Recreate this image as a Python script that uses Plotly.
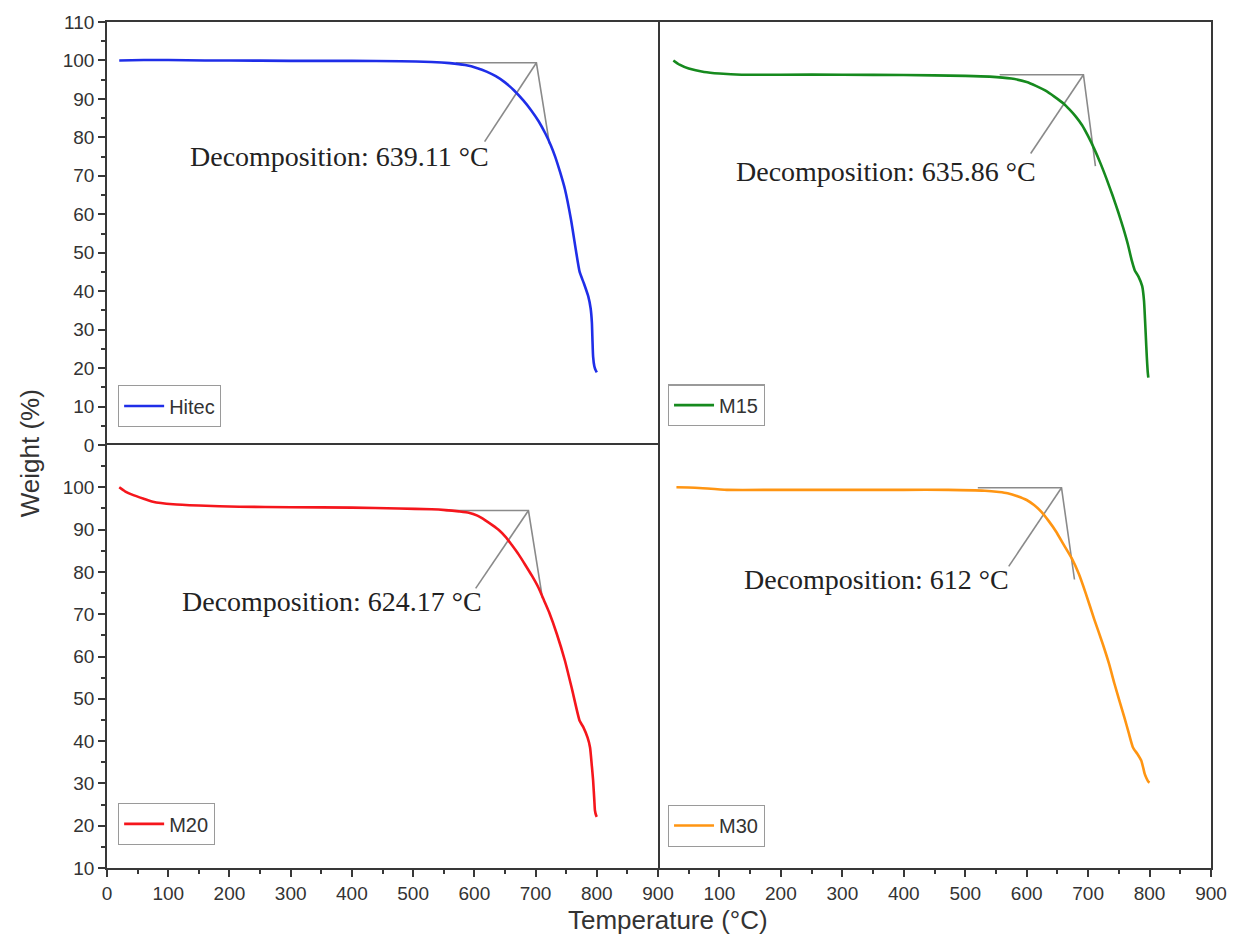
import plotly.graph_objects as go

# ---- TGA curves: temperature (°C) vs. remaining weight (%) ----
hitec_t = [20, 60, 100, 160, 200, 300, 400, 480, 530, 560, 585, 605, 620, 635, 650, 665, 680,
           693, 705, 716, 725, 732, 740, 748, 758, 766, 772, 779, 786, 790, 792, 793, 794, 796, 798, 800]
hitec_w = [100.0, 100.1, 100.1, 100.0, 100.0, 99.9, 99.9, 99.8, 99.6, 99.3, 98.8, 98.0, 97.1, 95.9,
           94.3, 92.2, 89.6, 87.0, 84.2, 81.0, 77.9, 75.0, 71.0, 66.5, 58.5, 50.5, 45.0, 42.0, 38.7,
           35.5, 31.8, 27.0, 23.0, 20.5, 19.5, 18.9]

m15_t = [25, 35, 50, 75, 100, 136, 200, 300, 400, 500, 540, 575, 600, 615, 630, 645, 660, 670, 680,
         690, 700, 710, 720, 730, 740, 749, 757, 765, 771, 776, 782, 788, 791, 792.5, 794, 795.5,
         797, 798]
m15_w = [100.0, 98.9, 97.9, 97.0, 96.6, 96.3, 96.3, 96.3, 96.2, 96.0, 95.8, 95.3, 94.4, 93.4, 92.2,
         90.6, 88.8, 87.2, 85.4, 83.2, 80.3, 77.0, 73.3, 69.2, 64.8, 60.6, 56.5, 52.0, 48.0, 45.4,
         43.8, 41.3, 37.5, 33.0, 28.0, 23.0, 19.0, 17.5]

m20_t = [20, 30, 42, 60, 75, 108, 150, 216, 300, 400, 477, 530, 553, 575, 591, 605, 618, 630, 640,
         651, 661, 672, 683, 694, 705, 714, 722, 735, 748, 760, 772, 778, 785, 789, 792, 794, 796,
         797, 799, 800]
m20_w = [100.0, 99.0, 98.2, 97.3, 96.6, 96.0, 95.7, 95.4, 95.3, 95.2, 95.0, 94.8, 94.6, 94.3, 94.0,
         93.3, 92.2, 91.0, 89.9, 88.3, 86.4, 84.2, 81.7, 79.1, 76.2, 73.2, 70.5, 65.2, 59.0, 52.0,
         44.8, 43.3, 40.8, 38.5, 34.0, 30.7, 26.0, 23.6, 22.4, 22.1]

m30_t = [30, 60, 112, 200, 300, 400, 472, 532, 555, 569, 585, 600, 612, 624, 636, 648, 660, 673,
         685, 696, 710, 724, 734, 743, 751, 759, 766, 773, 780, 786.5, 790, 792, 795, 798, 800]
m30_w = [100.0, 99.9, 99.4, 99.4, 99.4, 99.4, 99.4, 99.2, 98.9, 98.6, 97.9, 97.0, 95.8, 94.2, 92.0,
         89.5, 86.5, 83.3, 79.5, 75.0, 68.8, 62.9, 58.3, 53.5, 49.5, 45.6, 42.0, 38.5, 37.0, 35.4,
         33.5, 32.3, 31.2, 30.4, 30.2]

# ---- onset construction: baseline start, apex, tangent end, leader end ----
hitec_onset_t = [569.6, 701.4, 722.6, None, 701.4, 616.8]
hitec_onset_w = [99.4, 99.4, 78.4, None, 99.4, 78.9]
m15_onset_t = [556.0, 692.4, 711.9, None, 692.4, 606.5]
m15_onset_w = [96.3, 96.3, 72.5, None, 96.3, 75.8]
m20_onset_t = [553.0, 688.4, 711.2, None, 688.4, 602.2]
m20_onset_w = [94.5, 94.5, 73.8, None, 94.5, 76.1]
m30_onset_t = [520.5, 656.7, 677.8, None, 656.7, 570.8]
m30_onset_w = [99.9, 99.9, 78.2, None, 99.9, 81.3]

onset_labels = ["Decomposition: 639.11 °C", "Decomposition: 635.86 °C",
                "Decomposition: 624.17 °C", "Decomposition: 612 °C"]
label_t = [131.8, 123.2, 118.8, 136.2]
label_w = [75.0, 71.2, 73.1, 78.2]

names = ["Hitec", "M15", "M20", "M30"]
colors = ["#1f2ee8", "#168a1e", "#f5161c", "#ff9512"]

# tick values
y_top_ticks = list(range(0, 111, 10))
y_bot_ticks = list(range(10, 101, 10))
y_bot_minor = list(range(15, 110, 10))
x_left_ticks = list(range(0, 901, 100))
x_right_ticks = list(range(100, 901, 100))

# panel order: top-left, top-right, bottom-left, bottom-right
panel_axes = [("x3", "y3"), ("x4", "y4"), ("x", "y"), ("x2", "y2")]
legend_ids = ["legend", "legend2", "legend3", "legend4"]
curves = [(hitec_t, hitec_w), (m15_t, m15_w), (m20_t, m20_w), (m30_t, m30_w)]
onsets = [(hitec_onset_t, hitec_onset_w), (m15_onset_t, m15_onset_w),
          (m20_onset_t, m20_onset_w), (m30_onset_t, m30_onset_w)]

fig = go.Figure()
for i in range(4):
    xa, ya = panel_axes[i]
    fig.add_trace(go.Scatter(
        x=onsets[i][0], y=onsets[i][1], mode="lines", xaxis=xa, yaxis=ya,
        line=dict(color="#8a8a8a", width=1.6), showlegend=False, hoverinfo="skip"))
    fig.add_trace(go.Scatter(
        x=curves[i][0], y=curves[i][1], mode="lines", name=names[i], xaxis=xa, yaxis=ya,
        line=dict(color=colors[i], width=2.6, shape="spline", smoothing=0.5),
        legend=legend_ids[i]))

for i in range(4):
    xa, ya = panel_axes[i]
    fig.add_annotation(x=label_t[i], y=label_w[i], xref=xa, yref=ya, text=onset_labels[i],
                       showarrow=False, xanchor="left", yanchor="middle",
                       font=dict(family="Liberation Serif", size=28, color="#222222"))

LINE = "#383838"
base = dict(showline=True, linecolor=LINE, linewidth=1.6, showgrid=False, zeroline=False)
tick_font = dict(family="Liberation Sans", size=19, color="#333333")
major = dict(ticks="outside", ticklen=7, tickwidth=1.5, tickcolor=LINE, tickfont=tick_font)
xl, xr = [0, 0.4991], [0.4991, 1]
yb, yt = [0, 0.5], [0.5, 1]

fig.update_layout(
    # bottom-left: full frame
    xaxis=dict(domain=xl, range=[0, 900], anchor="y", tickmode="array", tickvals=x_left_ticks,
               minor=dict(ticks="outside", ticklen=4, dtick=50, tick0=0, tickcolor=LINE),
               mirror=True, **major, **base),
    yaxis=dict(domain=yb, range=[10, 110], anchor="x", tickmode="array", tickvals=y_bot_ticks,
               minor=dict(ticks="outside", ticklen=4, tickmode="array", tickvals=y_bot_minor,
                          tickcolor=LINE),
               mirror=True, **major, **base),
    # bottom-right: bottom axis + right edge only (shared edges come from neighbours)
    xaxis2=dict(domain=xr, range=[0, 900], anchor="y2", tickmode="array", tickvals=x_right_ticks,
                minor=dict(ticks="outside", ticklen=4, dtick=50, tick0=0, tickcolor=LINE),
                mirror=False, **major, **base),
    yaxis2=dict(domain=yb, range=[10, 110], anchor="x2", side="right", showticklabels=False,
                ticks="", mirror=False, **base),
    # top-left: top edge + left axis
    xaxis3=dict(domain=xl, range=[0, 900], anchor="y3", side="top", showticklabels=False,
                ticks="", mirror=False, **base),
    yaxis3=dict(domain=yt, range=[0, 110], anchor="x3", tickmode="array", tickvals=y_top_ticks,
                minor=dict(ticks="outside", ticklen=4, dtick=5, tick0=0, tickcolor=LINE),
                mirror=True, **major, **base),
    # top-right: top edge + right edge
    xaxis4=dict(domain=xr, range=[0, 900], anchor="y4", side="top", showticklabels=False,
                ticks="", mirror=False, **base),
    yaxis4=dict(domain=yt, range=[0, 110], anchor="x4", side="right", showticklabels=False,
                ticks="", mirror=False, **base),
)

legend_style = dict(bgcolor="white", bordercolor="#9a9a9a", borderwidth=1.2,
                    font=dict(family="Liberation Sans", size=20, color="#333333"),
                    xanchor="left", yanchor="bottom", itemwidth=40, tracegroupgap=0)
fig.update_layout(
    legend=dict(x=0.0099, y=0.521, **legend_style),
    legend2=dict(x=0.508, y=0.522, **legend_style),
    legend3=dict(x=0.0099, y=0.027, **legend_style),
    legend4=dict(x=0.508, y=0.025, **legend_style),
)

# shared axis titles
fig.add_annotation(x=-0.0695, y=0.4906, xref="paper", yref="paper", text="Weight (%)",
                   textangle=-90, showarrow=False, xanchor="center", yanchor="middle",
                   font=dict(family="Liberation Sans", size=26, color="#333333"))
fig.add_annotation(x=0.508, y=-0.061, xref="paper", yref="paper", text="Temperature (°C)",
                   showarrow=False, xanchor="center", yanchor="middle",
                   font=dict(family="Liberation Sans", size=26, color="#333333"))

fig.update_layout(
    width=1239, height=941,
    margin=dict(l=107, r=24, t=18, b=73),
    paper_bgcolor="white", plot_bgcolor="white",
)

fig.write_html("out.html")
